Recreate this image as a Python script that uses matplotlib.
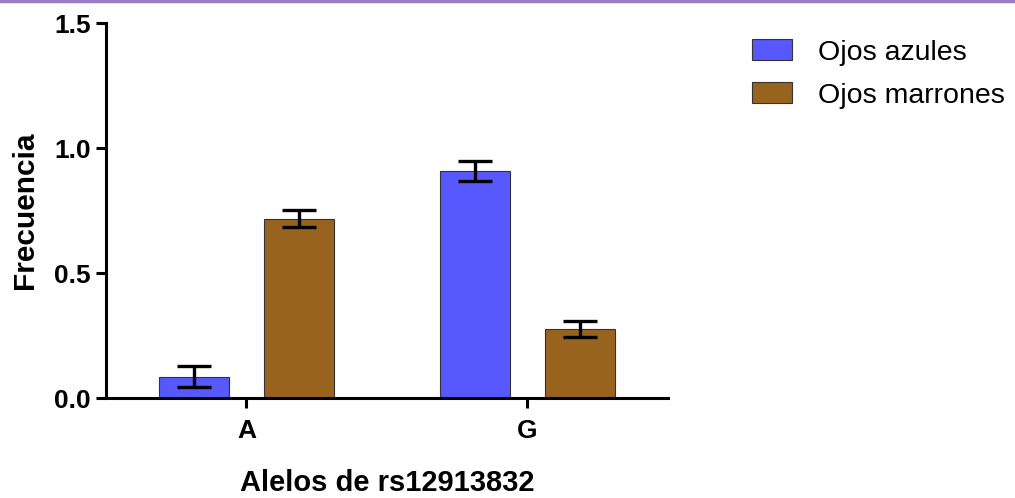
import matplotlib
matplotlib.use("Agg")
import matplotlib.pyplot as plt
from matplotlib.patches import Patch
from matplotlib.lines import Line2D
import numpy as np

plt.rcParams['font.family'] = ['Liberation Sans', 'DejaVu Sans']

alleles = ["A", "G"]
series = ["Ojos azules", "Ojos marrones"]
blue_vals = [0.086, 0.908]
blue_err = [0.042, 0.040]
brown_vals = [0.718, 0.276]
brown_err = [0.034, 0.032]
colors = ["#5858FF", "#98631F"]
yticks = [0.0, 0.5, 1.0, 1.5]

fig = plt.figure(figsize=(10.15, 4.98), dpi=100)
ax = fig.add_axes([0.1044, 0.2008, 0.5537, 0.753])

x = np.arange(len(alleles))
width = 0.25
offset = 0.186
for vals, errs, col, off, name in [(blue_vals, blue_err, colors[0], -offset, series[0]),
                                   (brown_vals, brown_err, colors[1], offset, series[1])]:
    ax.bar(x + off, vals, width, color=col, edgecolor="#333333", linewidth=0.8, label=name, zorder=2)
    ax.errorbar(x + off, vals, yerr=errs, fmt="none", ecolor="black", elinewidth=2.4,
                capsize=12, capthick=2.4, zorder=3)

ax.set_xlim(-0.5, 1.5)
ax.set_ylim(0, 1.5)
ax.set_xticks(x)
ax.set_xticklabels(alleles)
ax.set_yticks(yticks)
ax.set_yticklabels([f"{t:.1f}" for t in yticks])
for s in ["top", "right"]:
    ax.spines[s].set_visible(False)
for s in ["left", "bottom"]:
    ax.spines[s].set_linewidth(2.2)
ax.tick_params(axis="both", width=2.2, length=7, labelsize=19, direction="out")
for lab in ax.get_xticklabels() + ax.get_yticklabels():
    lab.set_fontweight("bold")
ax.tick_params(axis="x", pad=8)
ax.tick_params(axis="y", pad=4)

ax.set_ylabel("Frecuencia", fontsize=21.5, fontweight="bold", labelpad=11)
ax.set_xlabel("Alelos de rs12913832", fontsize=21, fontweight="bold", labelpad=19)

handles = [Patch(facecolor=colors[0], edgecolor="#333333", linewidth=0.8),
           Patch(facecolor=colors[1], edgecolor="#333333", linewidth=0.8)]
fig.legend(handles, series, loc="upper left", bbox_to_anchor=(0.741, 0.921), frameon=False,
           fontsize=20.5, handlelength=1.4, handleheight=0.75, handletextpad=0.9,
           labelspacing=0.58, borderpad=0, borderaxespad=0)

# thin purple rule across the top edge
fig.add_artist(Line2D([0, 1], [0.997, 0.997], transform=fig.transFigure, color="#9B7FC4", linewidth=2.5))

fig.savefig("out.png", dpi=100)
